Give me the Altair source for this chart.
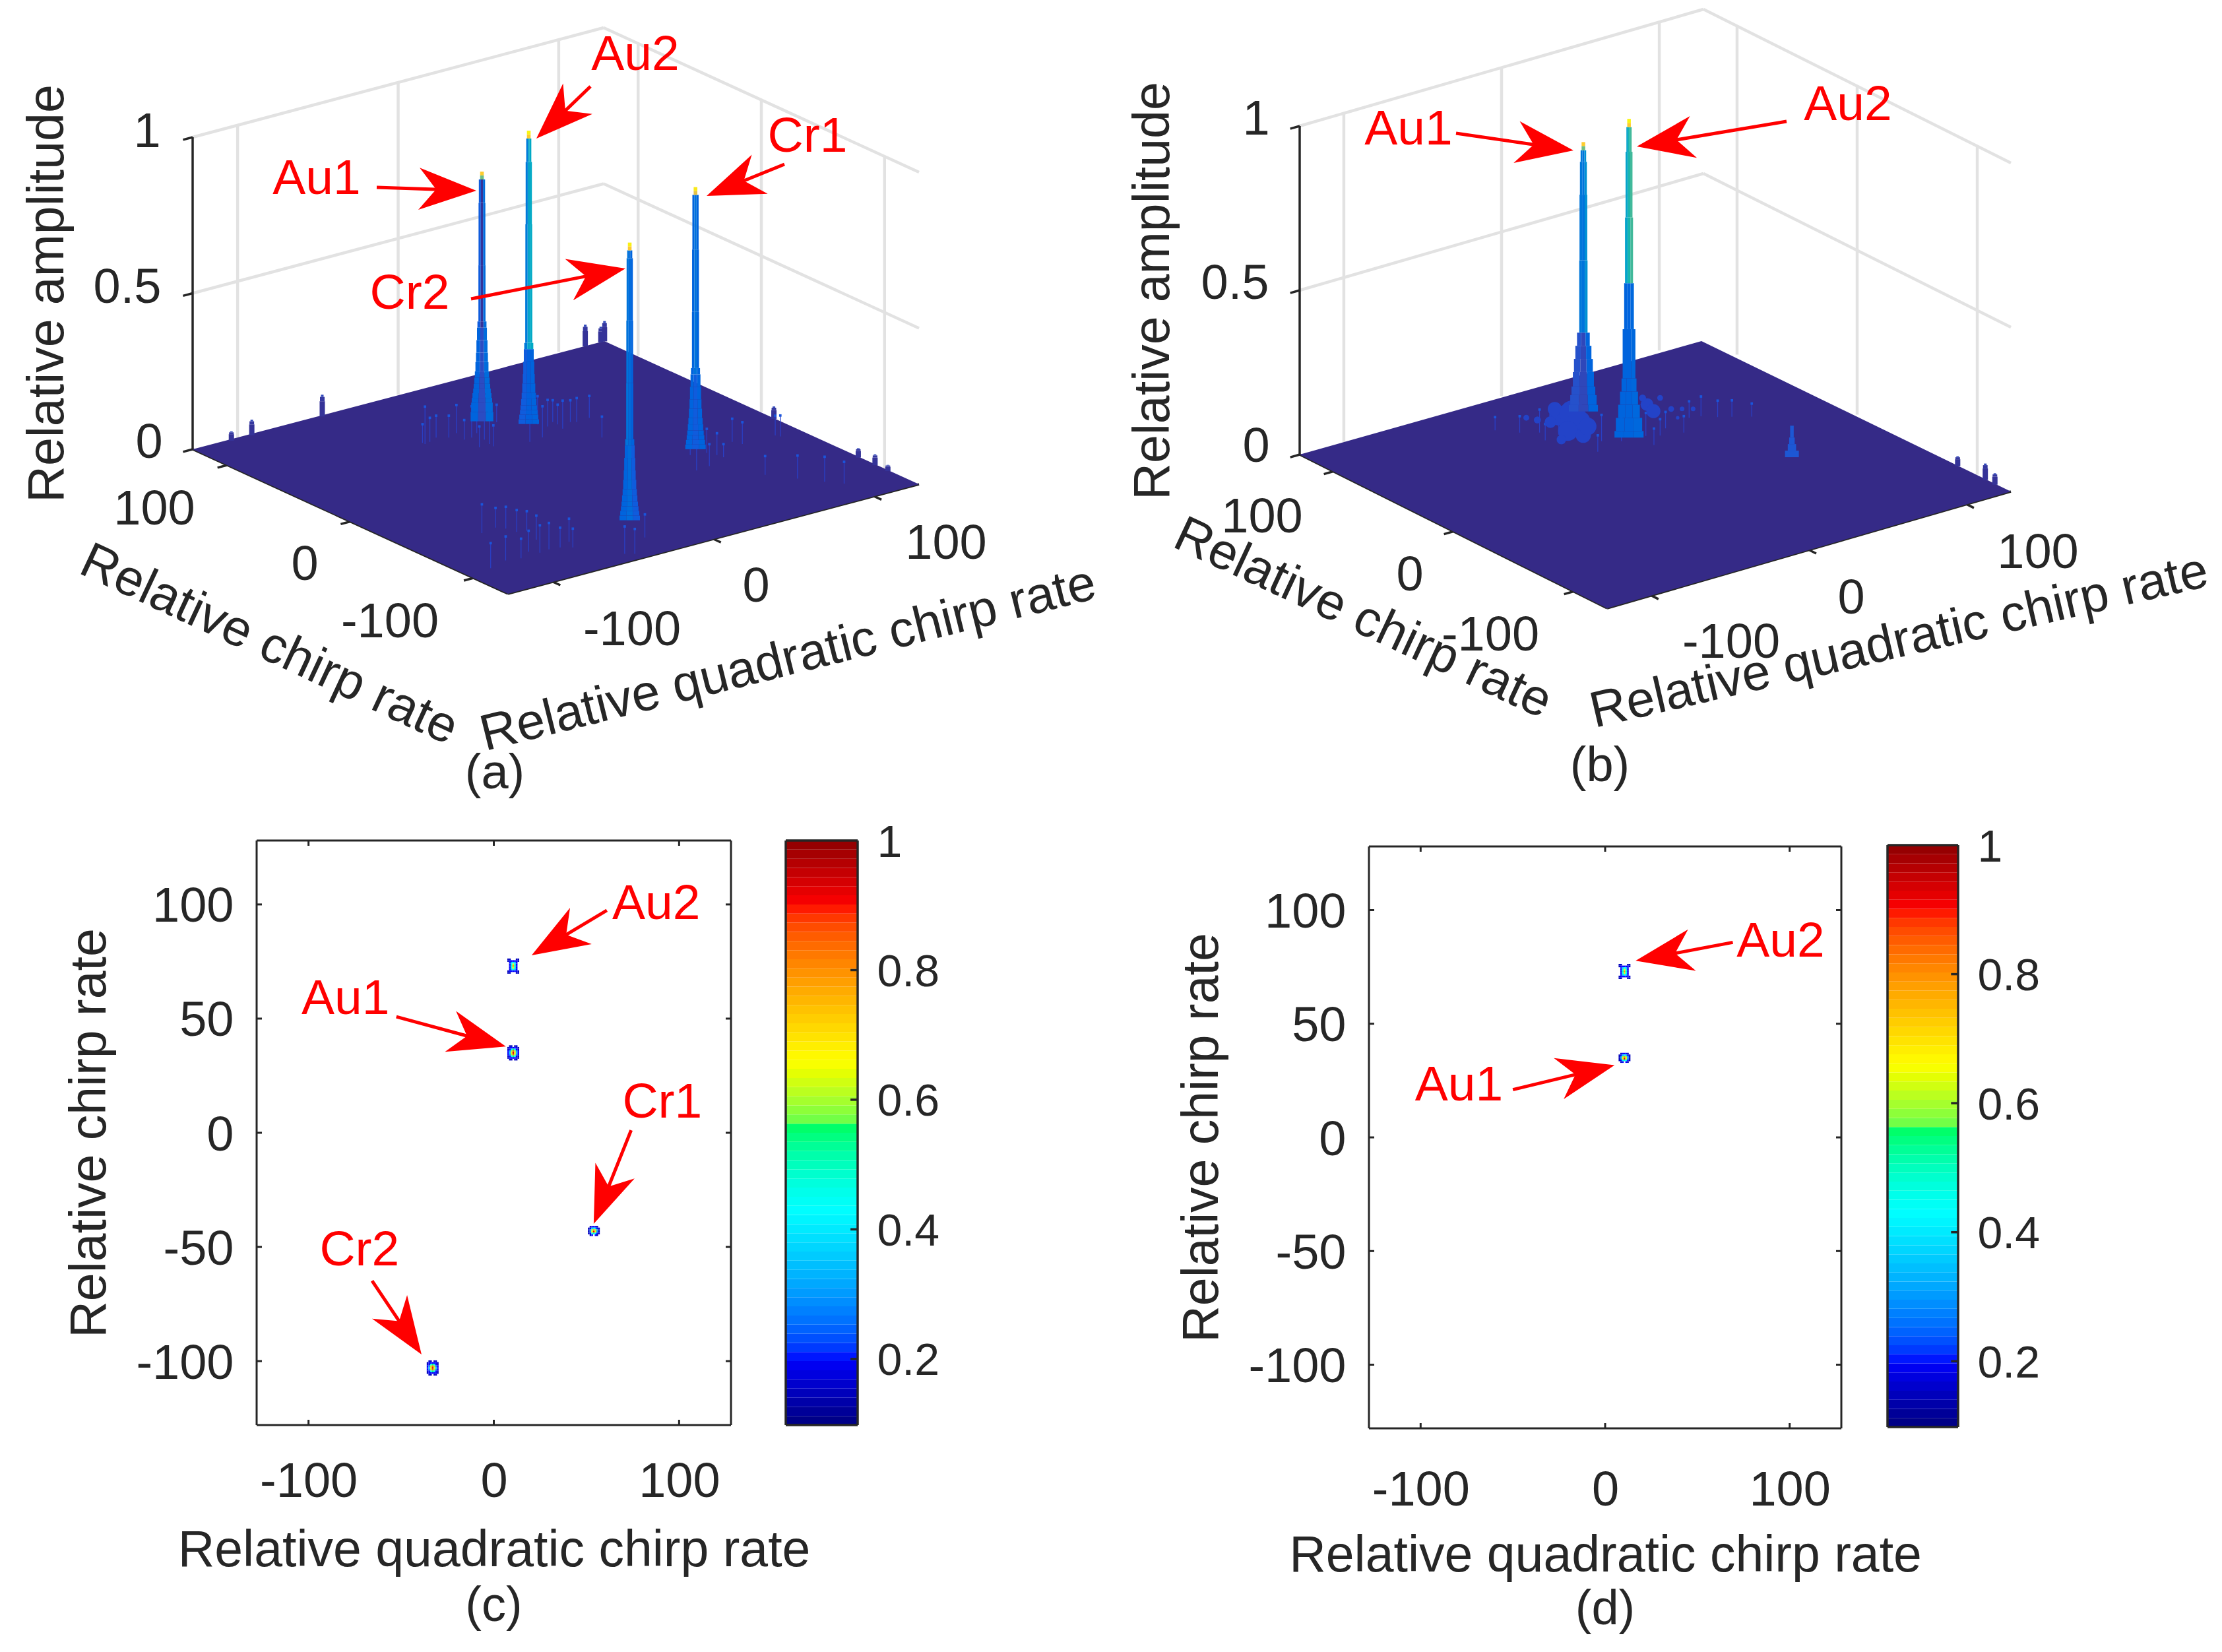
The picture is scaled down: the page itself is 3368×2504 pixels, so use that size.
import math
import numpy as np
import pandas as pd
import altair as alt

FONT = "Liberation Sans"
INK = "#262626"
RED = "#ff0000"
GRID = "#e2e2e2"
FLOOR = "#352a87"

# ---------------- axis annotations ----------------
AXIS_TICKS_3D = [-100, 0, 100]
AMP_TICKS = [0, 0.5, 1]
XY_TICKS_X = [-100, 0, 100]
XY_TICKS_Y = [-100, -50, 0, 50, 100]
CBAR_TICKS = [0.2, 0.4, 0.6, 0.8, 1.0]

# ---------------- colour maps ----------------
PARULA_D = [0, .1, .2, .3, .4, .5, .6, .7, .8, .9, 1]
PARULA_R = ["#352a87", "#0f5cdd", "#1481d6", "#06a4ca", "#2eb7a4", "#87bf77",
            "#d1bb59", "#fec832", "#f5dd20", "#f8e81a", "#f9fb0e"]
JET_D = [.098, .2, .43, .558, .562, .66, .9, 1.0]
JET_R = ["#00007f", "#0000ff", "#00ffff", "#00ff66", "#5fff4d", "#ffff00", "#ff0000", "#8f0000"]

# ---------------- peak data ----------------
PEAK_Q = [10, 10, 54, -33]
PEAK_C = [73, 35, -43, -103]
AMP_A = [0.80, 1.00, 0.90, 0.95]
AMP_B = [0.86, 1.00]

PROFILE_A_Z = [0, .03, .06, .075, .09, .105, .12, .14, .16, .19, .22, .26, .30, .32, .5, .7, .9]
PROFILE_A_W = [8, 7.6, 7.2, 6.7, 6.2, 5.8, 5.4, 5.0, 4.6, 4.2, 3.9, 3.5, 3.2, 2.5, 2.4, 2.2, 1.8]
PROFILE_B1_Z = [.04, .06, .09, .116, .16, .2, .24, .28, .5, .7, .8]
PROFILE_B1_W = [10.5, 9.5, 8.6, 7.6, 6.8, 5.8, 4.6, 3.0, 2.8, 2.5, 2.0]
PROFILE_B2_Z = [.03, .05, .09, .13, .17, .21, .36, .5, .7, .9]
PROFILE_B2_W = [10.5, 9.5, 7.8, 6.5, 5.4, 4.6, 3.5, 2.9, 2.5, 1.9]

# ---------------- fringe rods (q, c, height) read from the surfaces ----------------
RODS_A_Q = [-32, -28.2, -22, -32, -17, -10.2, -12.8, -8, -13.4, -7, 15, -4.8, -2.2, -6.6,
            29.3, 31.4, 37.2, 35.4, 44.1, 46.6, 55.3, 43.3, 19.9, 11.2, 37.2,
            71.4, 73.5, 52.3, 61.1, 74.2, 90.9, 93, 75.5, 113.4, 114.5, 63,
            -86.1, -76, -72.9, -71.4, -66.5, -70.3, -73.8, -59.3, -62.6, -112.8, -100.3, -92.4, -83.7, -80.2, -67.6,
            -47.8, -43.8, -25.7, 85, 93, 99]
RODS_A_C = [64.5, 65.5, 68.5, 66.5, 64.7, 67.4, 57.7, 57.9, 44.6, 41.6, 67.6, 51.7, 61.3, 45.3,
            53, 47.6, 51, 40.6, 45.7, 43.8, 44.9, 19, 36.8, 35.7, 47,
            -29.5, -35, -46.1, -45, -39.4, -24.7, -30.2, -71.5, -30.3, -33, -27,
            -52.2, -50.1, -54.4, -61.3, -63.1, -75.8, -90.6, -88, -95.4, -94.1, -90, -92.2, -87, -91.6, -91.6,
            -118.2, -121.2, -105.8, -85.4, -97, -105]
RODS_A_Z = [.12, .077, .07, .06, .07, .09, .063, .1, .067, .067, .056, .14, .105, .1,
            .09, .085, .07, .09, .07, .077, .07, .067, .1, .148, .063,
            .077, .07, .077, .07, .042, .074, .07, .06, .063, .067, .05,
            .092, .063, .07, .07, .063, .077, .085, .074, .06, .08, .077, .063, .067, .088, .063,
            .088, .08, .074, .074, .08, .07]
EDGE_A_Q = [-105.4, -92.7, -48.8, 115, 124.7, 127, 127, 127, 127, 127]
EDGE_A_C = [126, 126, 126, 126, 126, 126, -11.5, -80, -93.6, -104]
EDGE_A_Z = [.03, .05, .07, .07, .05, .065, .04, .03, .035, .02]

RODS_B_Q = [-22, -14, -8, -2, 4, 12, 20, 26, 32, 40, 58, 64, 70, 76, 84, -30, -18, -6, 22, 44]
RODS_B_C = [84, 78, 70, 58, 50, 44, 50, 42, 38, 44, 48, 46, 40, 36, 30, 94, 68, 40, 30, 34]
RODS_B_Z = [.05, .07, .06, .07, .08, .07, .06, .07, .05, .05, .05, .06, .05, .05, .04, .04, .05, .05, .05, .05]
MOUND_B_Q = [7.6, 11.1, 14.7, 10.2, -1.2, 1.4, -1.2, -4.7, -7.4, 10.3, -10.9,
             51.7, 49, 62.3, 57.9, 62.3, 66.7, 53.4, 55.2]
MOUND_B_C = [90, 98.3, 88.3, 77, 71.1, 61.8, 85.7, 92, 97.7, 69.8, 63.9,
             74.8, 65.9, 77.8, 62.8, 59.5, 56.1, 51.5, 83.1]
MOUND_B_R = [17, 12, 22, 20, 17, 13, 10, 6, 5, 15, 8, 11, 12, 5, 5, 4, 4, 3, 6]
EDGE_B_Q = [127, 127, 127]
EDGE_B_C = [-85, -108, -116]
EDGE_B_Z = [.03, .05, .035]
SMALL_B_Q = 67.6
SMALL_B_C = -25
SMALL_B_Z = [.0, .02, .04, .06, .096]
SMALL_B_W = [5, 3, 2, 1.3, 0.9]

# ---------------- contour cells for the bottom maps ----------------
CELL_BOWTIE = [[.15, .15, 0, 0, 0, .15, .15],
               [.15, .2, .2, .2, .2, .2, .15],
               [0, .2, .35, .45, .35, .2, 0],
               [0, .2, .45, .65, .45, .2, 0],
               [0, .2, .5, .78, .5, .2, 0],
               [0, .2, .45, .65, .45, .2, 0],
               [0, .2, .35, .45, .35, .2, 0],
               [.15, .2, .2, .2, .2, .2, .15],
               [.15, .15, 0, 0, 0, .15, .15]]
CELL_ROUND = [[0, .15, .15, 0, .15, .15, 0],
              [.15, .2, .2, .2, .2, .2, .15],
              [.15, .2, .4, .55, .4, .2, .15],
              [.2, .3, .6, .85, .6, .3, .2],
              [.2, .35, .7, .95, .7, .35, .2],
              [.2, .3, .6, .85, .6, .3, .2],
              [.15, .2, .4, .55, .4, .2, .15],
              [.15, .2, .2, .2, .2, .2, .15],
              [0, .15, .15, 0, .15, .15, 0]]
CELL_SMALL = [[0, .15, .2, .2, .2, .15, 0],
              [.15, .2, .35, .45, .35, .2, .15],
              [.15, .3, .6, .8, .6, .3, .15],
              [.15, .3, .65, .92, .65, .3, .15],
              [.15, .2, .4, .5, .4, .2, .15],
              [0, .15, .2, 0, .2, .15, 0]]

# ---------------- arrow head symbol ----------------
HEAD = "M0,0L-0.64,1.74L0,1.22L0.64,1.74Z"
HEAD_SIZE = 10000
HEAD_LEN = 55


class Frame:
    def __init__(self, X, Y, ax=None, ay=None, tx=None, ty=None):
        self.X, self.Y, self.ax, self.ay = X, Y, ax, ay
        self.tx, self.ty = tx, ty

    def xy(self):
        kx = dict(scale=self.X, axis=self.ax)
        ky = dict(scale=self.Y, axis=self.ay)
        if self.tx:
            kx["title"] = self.tx
        if self.ty:
            ky["title"] = self.ty
        return alt.X("x:Q", **kx), alt.Y("y:Q", **ky)


def project(p, q, c, z=0.0):
    u = (np.asarray(q, float) + 128) / 256
    v = (np.asarray(c, float) + 128) / 256
    x = p["F"][0] + u * (p["R"][0] - p["F"][0]) + v * (p["L"][0] - p["F"][0])
    y = p["F"][1] + u * (p["R"][1] - p["F"][1]) + v * (p["L"][1] - p["F"][1]) - np.asarray(z, float) * p["zu"]
    return x, y


def seg_layer(rows, fr, color, width):
    df = pd.DataFrame(rows, columns=["x", "y", "x2", "y2"])
    ex, ey = fr.xy()
    return alt.Chart(df).mark_rule(color=color, strokeWidth=width).encode(x=ex, y=ey, x2="x2:Q", y2="y2:Q")


def arrows_layers(arrows, fr, sx=1.0, sy=1.0):
    rows, heads = [], []
    for tx, ty, hx, hy in arrows:
        dx, dy = (hx - tx) * sx, (hy - ty) * sy
        L = math.hypot(dx, dy)
        ex = hx - (dx / L * HEAD_LEN) / sx
        ey = hy - (dy / L * HEAD_LEN) / sy
        rows.append((tx, ty, ex, ey))
        heads.append({"x": hx, "y": hy, "a": math.degrees(math.atan2(dx, -dy)) % 360})
    shaft = seg_layer(rows, fr, RED, 5)
    e1, e2 = fr.xy()
    head = alt.Chart(pd.DataFrame(heads)).mark_point(
        shape=HEAD, filled=True, size=HEAD_SIZE, color=RED, opacity=1, strokeWidth=0
    ).encode(x=e1, y=e2, angle=alt.Angle("a:Q", scale=None))
    return [shaft, head]


def text_layer(rows, fr, dy=3):
    df = pd.DataFrame(rows, columns=["t", "x", "y", "fs", "ang", "col"])
    e1, e2 = fr.xy()
    return alt.Chart(df).mark_text(font=FONT, align="center", baseline="middle", dy=dy).encode(
        x=e1, y=e2, text="t:N", size=alt.Size("fs:Q", scale=None), angle=alt.Angle("ang:Q", scale=None),
        color=alt.Color("col:N", scale=None))


def peak_rects(p, q, c, amp, zs, ws, zmin, low, high, split, tip, ppu):
    x0, y0 = project(p, q, c)
    out = []
    levels = [z for z in zs if z >= zmin]
    widths = [w for z, w in zip(zs, ws) if z >= zmin]
    for i, (z, w) in enumerate(zip(levels, widths)):
        top = levels[i + 1] if i + 1 < len(levels) else amp
        top = min(top, amp - 0.025)
        if z >= top:
            continue
        tri = low if z < split else high
        hw = w * ppu
        edges = [x0 - hw, x0 - hw / 3, x0 + hw / 3, x0 + hw]
        for k in range(3):
            out.append(dict(x=float(edges[k]), x2=float(edges[k + 1]),
                            y=float(y0 - z * p["zu"]), y2=float(y0 - top * p["zu"]), s=tri[k]))
    hw = 1.3 * ppu
    out.append(dict(x=float(x0 - hw), x2=float(x0 + hw), y=float(y0 - (amp - .025) * p["zu"]),
                    y2=float(y0 - (amp - .012) * p["zu"]), s=max(tip - .25, .3)))
    out.append(dict(x=float(x0 - hw), x2=float(x0 + hw), y=float(y0 - (amp - .012) * p["zu"]),
                    y2=float(y0 - amp * p["zu"]), s=tip))
    return out


def panel3d(p, peaks, rods, edges, mounds, small, arrows, texts, view_w, xdom, xrange):
    X = alt.Scale(domain=xdom, range=xrange, nice=False, zero=False)
    Y = alt.Scale(domain=[8, 1274], reverse=True, nice=False, zero=False)
    fr = Frame(X, Y)
    shade = alt.Scale(domain=PARULA_D, range=PARULA_R)
    layers = []
    grid = []
    for z in AMP_TICKS[1:]:
        a = project(p, -128, 128, z); b = project(p, 128, 128, z); d = project(p, 128, -128, z)
        grid += [(*a, *b), (*b, *d)]
    for t in AXIS_TICKS_3D:
        a = project(p, t, 128, 0); b = project(p, t, 128, 1)
        grid.append((*a, *b))
        a = project(p, 128, t, 0); b = project(p, 128, t, 1)
        grid.append((*a, *b))
    layers.append(seg_layer([tuple(map(float, g)) for g in grid], fr, GRID, 4.5))
    ax = [(*project(p, -128, 128, 0), *project(p, -128, 128, 1))]
    for z in AMP_TICKS:
        ax.append((*project(p, -128, 128, z), *project(p, -134, 128, z)))
    for t in AXIS_TICKS_3D:
        ax.append((*project(p, -128, t, 0), *project(p, -134, t, 0)))
        ax.append((*project(p, t, -128, 0), *project(p, t, -134, 0)))
    ax.append((*project(p, -128, -128, 0), *project(p, 128, -128, 0)))
    ax.append((*project(p, -128, -128, 0), *project(p, -128, 128, 0)))
    layers.append(seg_layer([tuple(map(float, g)) for g in ax], fr, INK, 3.5))
    L, B, R, F = p["L"], p["B"], p["R"], p["F"]
    xs = sorted([L[0], B[0], R[0], F[0]])
    up = np.interp(xs, [L[0], B[0], R[0]], [L[1], B[1], R[1]])
    lo = np.interp(xs, [L[0], F[0], R[0]], [L[1], F[1], R[1]])
    layers.append(alt.Chart(pd.DataFrame({"x": xs, "y": up, "y2": lo})).mark_area(color=FLOOR, orient="vertical").encode(
        x=alt.X("x:Q", scale=X, axis=None), y=alt.Y("y:Q", scale=Y, axis=None, stack=None), y2="y2:Q"))
    rows = []
    eq, ec, ez = edges
    for q, c, z in zip(eq, ec, ez):
        x0, y0 = project(p, q, c)
        for zz, hw, s in ((0, 4, .02), (z * .7, 3.5, .03), (z * .9, 2, .06)):
            top = z if s == .06 else z * .9 if s == .03 else z * .7
            rows.append(dict(x=float(x0 - hw), x2=float(x0 + hw), y=float(y0 - zz * p["zu"]),
                             y2=float(y0 - top * p["zu"]), s=s))
    peak_rows = []
    for args in peaks:
        peak_rows += peak_rects(p, *args)
    if small is not None:
        sq, sc, sz, sw = small
        x0, y0 = project(p, sq, sc)
        for i in range(len(sz) - 1):
            peak_rows.append(dict(x=float(x0 - sw[i] * 2.1), x2=float(x0 + sw[i] * 2.1),
                                  y=float(y0 - sz[i] * p["zu"]), y2=float(y0 - sz[i + 1] * p["zu"]), s=.09))
    rect = lambda data: alt.Chart(pd.DataFrame(data)).mark_rect(strokeWidth=0).encode(
        x=alt.X("x:Q", scale=X, axis=None), x2="x2:Q",
        y=alt.Y("y:Q", scale=Y, axis=None), y2="y2:Q",
        color=alt.Color("s:Q", scale=shade, legend=None))
    layers.append(rect(rows))
    rq, rc, rz = rods
    bx, by = project(p, rq, rc)
    tx, ty = project(p, rq, rc, rz)
    rod_df = pd.DataFrame({"x": bx, "y": by, "x2": tx, "y2": ty})
    layers.append(seg_layer(rod_df.values.tolist(), fr, "#2a3fc4", 1.3))
    layers.append(alt.Chart(pd.DataFrame({"x": tx, "y": ty})).mark_square(size=14, color="#1a55dc", opacity=1).encode(
        x=alt.X("x:Q", scale=X, axis=None), y=alt.Y("y:Q", scale=Y, axis=None)))
    if mounds is not None:
        mq, mc, mr = mounds
        mx, my = project(p, mq, mc)
        layers.append(alt.Chart(pd.DataFrame({"x": mx, "y": my, "r": [math.pi * r * r for r in mr]})).mark_circle(
            color="#2343c8", opacity=1).encode(
            x=alt.X("x:Q", scale=X, axis=None), y=alt.Y("y:Q", scale=Y, axis=None),
            size=alt.Size("r:Q", scale=None)))
    layers.append(rect(peak_rows))
    layers += arrows_layers(arrows, fr)
    layers.append(text_layer(texts, fr))
    return alt.layer(*layers).properties(width=view_w, height=1266)


PANEL_A = dict(L=(292, 681), B=(916, 517), R=(1393, 734), F=(770, 900), zu=473)
PANEL_B = dict(L=(1970, 689), B=(2579, 517), R=(3048, 745), F=(2436, 922), zu=498)

PEAKS_A = [
    (PEAK_Q[0], PEAK_C[0], AMP_A[0], PROFILE_A_Z, PROFILE_A_W, 0, (.12, .07, .14), (.1, .02, .14), .3, .72, 2.15),
    (PEAK_Q[1], PEAK_C[1], AMP_A[1], PROFILE_A_Z, PROFILE_A_W, .06, (.1, .11, .12), (.18, .3, .32), .3, .97, 2.15),
    (PEAK_Q[2], PEAK_C[2], AMP_A[2], PROFILE_A_Z, PROFILE_A_W, .06, (.12, .1, .12), (.12, .16, .12), .3, .9, 2.15),
    (PEAK_Q[3], PEAK_C[3], AMP_A[3], PROFILE_A_Z, PROFILE_A_W, .06, (.12, .14, .1), (.16, .14, .12), .3, .95, 2.15),
]
PEAKS_B = [
    (PEAK_Q[0], PEAK_C[0], AMP_B[0], PROFILE_B1_Z, PROFILE_B1_W, 0, (.08, .06, .12), (.17, .16, .24), .28, .72, 2.1),
    (PEAK_Q[1], PEAK_C[1], AMP_B[1], PROFILE_B2_Z, PROFILE_B2_W, 0, (.12, .12, .13), (.3, .38, .42), .5, .97, 2.1),
]

TXT_A = [
    ("Relative amplitude", 70, 445, 77, 270, INK),
    ("1", 223, 198, 74, 0, INK), ("0.5", 193, 434, 74, 0, INK), ("0", 226, 669, 74, 0, INK),
    ("100", 234, 770, 74, 0, INK), ("0", 462, 854, 74, 0, INK), ("-100", 591, 941, 74, 0, INK),
    ("-100", 958, 953, 74, 0, INK), ("0", 1146, 887, 74, 0, INK), ("100", 1434, 822, 74, 0, INK),
    ("Relative chirp rate", 409, 975, 77, 25, INK),
    ("Relative quadratic chirp rate", 1194, 997, 77, 346, INK),
    ("(a)", 750, 1170, 74, 0, INK),
    ("Au1", 480, 268, 75, 0, RED), ("Au2", 963, 80, 75, 0, RED),
    ("Cr1", 1224, 204, 75, 0, RED), ("Cr2", 621, 442, 75, 0, RED),
]
ARROWS_A = [(571, 284, 722, 289), (895, 131, 813, 210), (1189, 249, 1071, 297), (714, 453, 948, 407)]

TXT_B = [
    ("Relative amplitude", 1746, 441, 77, 270, INK),
    ("1", 1904, 179, 74, 0, INK), ("0.5", 1872, 428, 74, 0, INK), ("0", 1904, 675, 74, 0, INK),
    ("100", 1913, 782, 74, 0, INK), ("0", 2137, 870, 74, 0, INK), ("-100", 2259, 961, 74, 0, INK),
    ("-100", 2624, 972, 74, 0, INK), ("0", 2806, 905, 74, 0, INK), ("100", 3089, 836, 74, 0, INK),
    ("Relative chirp rate", 2067, 935, 77, 25, INK),
    ("Relative quadratic chirp rate", 2878, 970, 77, 347, INK),
    ("(b)", 2425, 1159, 74, 0, INK),
    ("Au1", 2135, 193, 75, 0, RED), ("Au2", 2801, 156, 75, 0, RED),
]
ARROWS_B = [(2207, 202, 2385, 228), (2708, 184, 2481, 222)]

# column widths of the grid: the two surfaces overflow their cells through their scale ranges
COLS = [381, 719, 83, 109, 775, 716, 70, 107]
a = panel3d(PANEL_A, PEAKS_A, (RODS_A_Q, RODS_A_C, RODS_A_Z), (EDGE_A_Q, EDGE_A_C, EDGE_A_Z),
            None, None, ARROWS_A, TXT_A, COLS[0], [8, 1688], [0, 1680])
b = panel3d(PANEL_B, PEAKS_B, (RODS_B_Q, RODS_B_C, RODS_B_Z), (EDGE_B_Q, EDGE_B_C, EDGE_B_Z),
            (MOUND_B_Q, MOUND_B_C, MOUND_B_R), (SMALL_B_Q, SMALL_B_C, SMALL_B_Z, SMALL_B_W),
            ARROWS_B, TXT_B, COLS[1], [1688, 3360], [1299, 2971])


# ---------------- bottom panels ----------------
def cells(q, c, mat):
    out = []
    nr, nc = len(mat), len(mat[0])
    for i, row in enumerate(mat):
        for j, v in enumerate(row):
            if v > 0:
                qc = q + (j - (nc - 1) / 2) * .915
                cc = c + ((nr - 1) / 2 - i) * .74
                out.append(dict(x=qc - .46, x2=qc + .46, y=cc - .37, y2=cc + .37, v=v))
    return out


def panel2d(blobs, arrows, labels, letter, W, view_h, top, label_pad, title_pad):
    H = view_h - top
    PX, PY = W / 256, H / 256
    X = alt.Scale(domain=[-128, 128], nice=False, zero=False)
    Y = alt.Scale(domain=[-128, 128], range=[view_h, top], nice=False, zero=False)
    jet = alt.Scale(domain=JET_D, range=JET_R)
    ax = alt.Axis(values=XY_TICKS_X, grid=False, domain=False, ticks=False, labelExpr="'' + datum.value",
                  labelFontSize=74, titleFontSize=77, labelPadding=label_pad, titlePadding=title_pad,
                  labelColor=INK, titleColor=INK, labelFont=FONT, titleFont=FONT, titleFontWeight="normal",
                  labelFlush=False, labelOverlap=False)
    ay = alt.Axis(values=XY_TICKS_Y, grid=False, domain=False, ticks=False, labelExpr="'' + datum.value",
                  labelFontSize=74, titleFontSize=77, labelPadding=35, titlePadding=30, labelOffset=4,
                  labelColor=INK, titleColor=INK, labelFont=FONT, titleFont=FONT, titleFontWeight="normal",
                  labelFlush=False, labelOverlap=False)
    fr = Frame(X, Y, ax, ay, "Relative quadratic chirp rate", "Relative chirp rate")
    t_len_x, t_len_y = 8 / PX, 8 / PY
    box = [(-128, -128, 128, -128), (-128, 128, 128, 128), (-128, -128, -128, 128), (128, -128, 128, 128)]
    ticks = []
    for t in XY_TICKS_X:
        ticks += [(t, -128, t, -128 + t_len_y), (t, 128, t, 128 - t_len_y)]
    for t in XY_TICKS_Y:
        ticks += [(-128, t, -128 + t_len_x, t), (128, t, 128 - t_len_x, t)]
    rows = []
    for q, c, m in blobs:
        rows += cells(q, c, m)
    e1, e2 = fr.xy()
    heat = alt.Chart(pd.DataFrame(rows)).mark_rect(strokeWidth=0).encode(
        x=e1, x2="x2:Q", y=e2, y2="y2:Q",
        color=alt.Color("v:Q", scale=jet, legend=None))
    layers = [seg_layer(box + ticks, fr, INK, 3), heat]
    layers += arrows_layers(arrows, fr, PX, -PY)
    layers.append(text_layer(labels + [letter], fr))
    return alt.layer(*layers).properties(width=W, height=view_h)


def colorbar(width, view_h, top):
    X = alt.Scale(domain=[0, 1], nice=False, zero=False)
    Y = alt.Scale(domain=[.098, 1], range=[view_h, top], nice=False, zero=False)
    ay = alt.Axis(orient="right", values=CBAR_TICKS, format=".1~f", grid=False, domain=False, ticks=False,
                  labelFontSize=68, labelPadding=29, labelColor=INK, labelFont=FONT, labelOffset=4,
                  labelFlush=False, labelOverlap=False, title=None)
    fr = Frame(X, Y, None, ay)
    edges = np.linspace(.098, 1, 65)
    df = pd.DataFrame({"x": 0.0, "x2": 1.0, "y": edges[:-1], "y2": edges[1:], "v": (edges[:-1] + edges[1:]) / 2})
    e1, e2 = fr.xy()
    bar = alt.Chart(df).mark_rect(strokeWidth=0).encode(
        x=e1, x2="x2:Q", y=e2, y2="y2:Q",
        color=alt.Color("v:Q", scale=alt.Scale(domain=JET_D, range=JET_R), legend=None))
    box = [(0, .098, 1, .098), (0, 1, 1, 1), (0, .098, 0, 1), (1, .098, 1, 1)]
    ticks = [(.9, t, 1, t) for t in CBAR_TICKS[:-1]]
    return alt.layer(bar, seg_layer(box + ticks, fr, INK, 3.5)).properties(width=width, height=view_h)


def spacer(w, h):
    return alt.Chart(pd.DataFrame({"x": [0]})).mark_point(opacity=0, size=1).encode(
        x=alt.value(w / 2), y=alt.value(h / 2)).properties(width=w, height=h)


BLOBS_C = [(10.5, 73, CELL_BOWTIE), (10.5, 35, CELL_ROUND), (54, -43, CELL_SMALL), (-33, -103, CELL_ROUND)]
BLOBS_D = [(10.5, 73, CELL_BOWTIE), (10.5, 35, CELL_SMALL)]
ARROWS_C = [(61, 97.4, 20.4, 77.7), (-52.6, 50.8, 6.5, 37.8), (74.1, 1.1, 53.9, -39.9), (-65.7, -64.8, -39, -97.1)]
ARROWS_D = [(69.2, 85.8, 16.5, 77.7), (-50, 21, 5.1, 31.8)]
LABELS_C = [("Au2", 87.7, 101.1, 75, 0, RED), ("Au1", -80, 59.5, 75, 0, RED),
            ("Cr1", 90.9, 14.1, 75, 0, RED), ("Cr2", -72.5, -50.6, 75, 0, RED)]
LABELS_D = [("Au2", 95.1, 87, 75, 0, RED), ("Au1", -79.2, 23.7, 75, 0, RED)]

c = panel2d(BLOBS_C, ARROWS_C, LABELS_C, ("(c)", 0, -206.5, 74, 0, INK), COLS[1], 886, 0, 50, 29)
d = panel2d(BLOBS_D, ARROWS_D, LABELS_D, ("(d)", 0, -207, 74, 0, INK), COLS[5], 891, 9, 58, 24)
cb1 = colorbar(COLS[3], 886, 0)
cb2 = colorbar(COLS[7], 889, 7)

chart = alt.concat(
    a, b, spacer(COLS[2], 1266), spacer(COLS[3], 1266), spacer(COLS[4], 1266), spacer(COLS[5], 1266), spacer(COLS[6], 1266), spacer(COLS[7], 1266),
    spacer(COLS[0], 10), c, spacer(COLS[2], 10), cb1, spacer(COLS[4], 10), d, spacer(COLS[6], 10), cb2,
    columns=8, spacing=0, bounds="flush"
).resolve_scale(color="independent").properties(padding=0, background="white").configure_view(stroke=None)

chart.save("out.html", embed_options={"renderer": "svg", "actions": False})
